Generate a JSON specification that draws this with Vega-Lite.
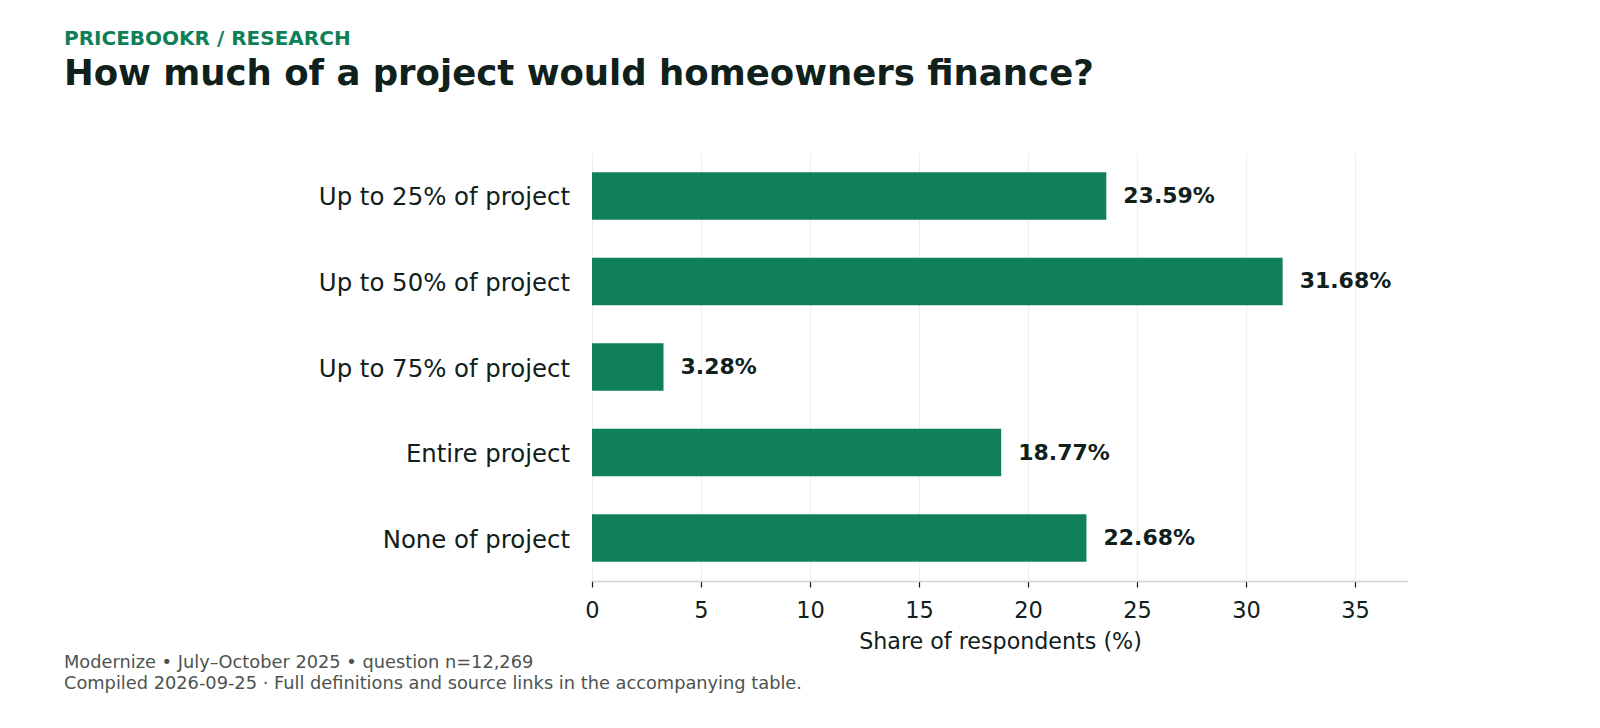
{
  "$schema": "https://vega.github.io/schema/vega-lite/v6.json",
  "description": "Share of respondents by how much of a project they would finance.",
  "padding": {"left": 64, "top": 29, "right": 0, "bottom": 0},
  "background": "white",
  "config": {
    "font": "DejaVu Sans",
    "view": {"stroke": null},
    "concat": {"spacing": 0}
  },
  "title": {
    "text": "PRICEBOOKR / RESEARCH",
    "subtitle": "How much of a project would homeowners finance?",
    "anchor": "start",
    "frame": "group",
    "dx": -528,
    "font": "DejaVu Sans",
    "fontSize": 20,
    "fontWeight": "bold",
    "color": "#0f7f58",
    "subtitleFont": "DejaVu Sans",
    "subtitleFontSize": 35.5,
    "subtitleFontWeight": "bold",
    "subtitleColor": "#10201b",
    "subtitlePadding": 7.5,
    "offset": 61
  },
  "vconcat": [
    {
      "width": 816,
      "height": 428,
      "title": {
        "text": "Modernize • July–October 2025 • question n=12,269",
        "subtitle": "Compiled 2026-09-25 · Full definitions and source links in the accompanying table.",
        "orient": "bottom",
        "anchor": "start",
        "frame": "group",
        "dx": -528,
        "font": "DejaVu Sans",
        "fontSize": 17.8,
        "fontWeight": "normal",
        "color": "#4d5350",
        "subtitleFont": "DejaVu Sans",
        "subtitleFontSize": 17.8,
        "subtitleColor": "#4d5350",
        "subtitlePadding": 3,
        "offset": 1
      },
      "data": {
        "values": [
          {"option": "Up to 25% of project", "share": 23.59},
          {"option": "Up to 50% of project", "share": 31.68},
          {"option": "Up to 75% of project", "share": 3.28},
          {"option": "Entire project", "share": 18.77},
          {"option": "None of project", "share": 22.68}
        ]
      },
      "transform": [
        {"calculate": "format(datum.share, '.2f') + '%'", "as": "label"}
      ],
      "encoding": {
        "y": {
          "field": "option",
          "type": "nominal",
          "sort": null,
          "scale": {"paddingInner": 0.445, "paddingOuter": 0.225},
          "axis": {
            "title": null,
            "domain": false,
            "ticks": false,
            "grid": false,
            "labelFontSize": 24.4,
            "labelColor": "#10201b",
            "labelPadding": 22.5,
            "labelOffset": 2.5,
            "labelLimit": 0
          }
        },
        "x": {
          "field": "share",
          "type": "quantitative",
          "scale": {"domain": [0, 37.43], "nice": false},
          "axis": {
            "title": "Share of respondents (%)",
            "titleFontSize": 22.2,
            "titleFontWeight": "normal",
            "titleColor": "#10201b",
            "titlePadding": 9,
            "values": [0, 5, 10, 15, 20, 25, 30, 35],
            "labelFontSize": 22.5,
            "labelColor": "#10201b",
            "labelPadding": 12,
            "labelFlush": false,
            "domainColor": "#d4d4d8",
            "domainWidth": 1.5,
            "tickColor": "#10201b",
            "tickSize": 6,
            "tickWidth": 1.2,
            "gridColor": "#eeeeee",
            "gridWidth": 1
          }
        }
      },
      "layer": [
        {
          "mark": {"type": "bar", "color": "#0f805b"}
        },
        {
          "mark": {
            "type": "text",
            "align": "left",
            "baseline": "middle",
            "dx": 17,
            "fontSize": 22,
            "fontWeight": "bold",
            "color": "#10201b"
          },
          "encoding": {
            "text": {"field": "label", "type": "nominal"}
          }
        }
      ]
    }
  ]
}
